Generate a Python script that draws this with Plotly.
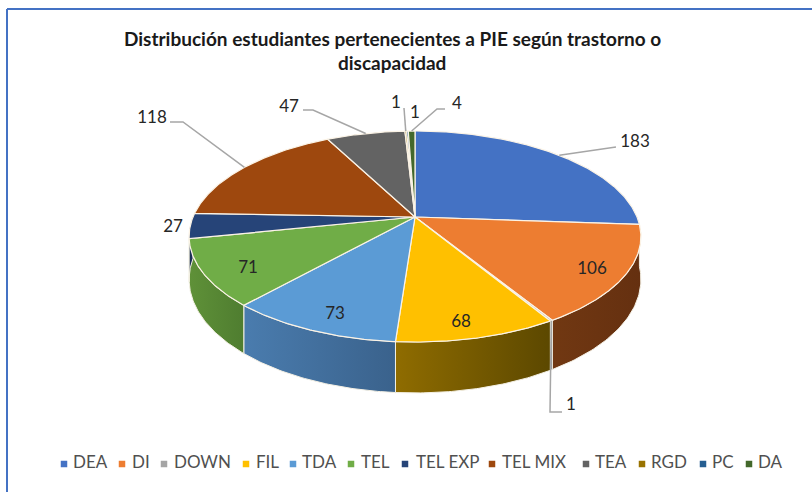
import numpy as np
import plotly.graph_objects as go

categories = ["DEA", "DI", "DOWN", "FIL", "TDA", "TEL", "TEL EXP", "TEL MIX", "TEA", "RGD", "PC", "DA"]
values = [183, 106, 1, 68, 73, 71, 27, 118, 47, 1, 1, 4]
top_colors = ["#4472c4", "#ed7d31", "#a5a5a5", "#ffc000", "#5b9bd5", "#70ad47",
              "#264478", "#9e480e", "#636363", "#997300", "#255e91", "#43682b"]
side_left = ["#2a4a85", "#713812", "#777777", "#8f6c00", "#4a7cae", "#5f9138",
             "#1b3057", "#6b300a", "#444444", "#6b5000", "#1a4268", "#2e481e"]
side_right = ["#2a4a85", "#653010", "#777777", "#5c4800", "#3a628c", "#4f7d30",
              "#1b3057", "#6b300a", "#444444", "#6b5000", "#1a4268", "#2e481e"]
title_lines = ["Distribución estudiantes pertenecientes a PIE según trastorno o", "discapacidad"]

# label placement (page pixels)
label_pos = {0: (635, 143), 1: (592, 270), 2: (571, 406), 3: (461, 323), 4: (335, 315), 5: (248, 269),
             6: (173, 228), 7: (152, 119), 8: (289, 108), 9: (396, 104), 10: (415, 114), 11: (457, 105)}
# elbow points of the leader lines
leaders = {0: [(610, 148), (616, 147)], 2: [(550, 412), (562, 412)], 7: [(183, 122), (170, 122)],
           8: [(313, 110), (303, 110)], 9: [(404, 108)], 11: [(437, 109), (445, 109)]}
legend_marker_x = [64, 122, 164, 246, 293, 351, 405, 492, 586, 642, 703, 749]
legend_text_x = [73, 132, 174, 256, 302, 361, 416, 502, 595, 651, 712, 758]
legend_y = 464

# perspective pie geometry
CX, CY, RX, RY, PERSP, DEPTH = 415, 217, 222, 101.9, 0.185, 41.5


def project(deg, r=1.0):
    a = np.radians(deg)
    u, v = r * np.sin(a), r * np.cos(a)
    w = 1 + PERSP * v
    return CX + RX * u / w, CY - RY * v / w, w


totals = np.cumsum([0] + values) / sum(values) * 360
fig = go.Figure()

# side walls
for i, name in enumerate(categories):
    a0, a1 = totals[i], totals[i + 1]
    lo, hi = max(a0, 90), min(a1, 270)
    if hi <= lo:
        continue
    arc = np.linspace(lo, hi, 60)
    x, y, w = project(arc)
    px = np.concatenate([x, x[::-1], x[:1]])
    py = np.concatenate([y, (y + DEPTH / w)[::-1], y[:1]])
    fig.add_trace(go.Scatter(
        x=px, y=py, mode="lines", fill="toself", showlegend=False, hoverinfo="skip",
        line=dict(color="#f4f0e4", width=1),
        fillgradient=dict(type="horizontal", colorscale=[[0, side_left[i]], [1, side_right[i]]]),
    ))

# top surface
for i, name in enumerate(categories):
    arc = np.linspace(totals[i], totals[i + 1], max(3, int(totals[i + 1] - totals[i]) * 2))
    x, y, _ = project(arc)
    fig.add_trace(go.Scatter(
        x=np.concatenate([[CX], x, [CX]]), y=np.concatenate([[CY], y, [CY]]),
        mode="lines", fill="toself", fillcolor=top_colors[i], name=name, showlegend=False,
        line=dict(color="#fbf3e6", width=1.2), hoverinfo="name",
    ))

# leader lines
for i, pts in leaders.items():
    mid = (totals[i] + totals[i + 1]) / 2
    x, y, _ = project(mid)
    xs = [float(x)] + [p[0] for p in pts]
    ys = [float(y)] + [p[1] for p in pts]
    fig.add_trace(go.Scatter(x=xs, y=ys, mode="lines", showlegend=False, hoverinfo="skip",
                             line=dict(color="#a6a6a6", width=1.5)))

# value labels
fig.add_trace(go.Scatter(
    x=[label_pos[i][0] for i in range(len(values))],
    y=[label_pos[i][1] for i in range(len(values))],
    text=[str(v) for v in values], mode="text", showlegend=False, hoverinfo="skip",
    textfont=dict(family="Lato", size=17, color="#262626"),
))

# legend
fig.add_trace(go.Scatter(
    x=legend_marker_x, y=[legend_y] * len(categories), mode="markers", showlegend=False, hoverinfo="skip",
    marker=dict(symbol="square", size=6.5, color=top_colors, line=dict(width=0)),
))
fig.add_trace(go.Scatter(
    x=legend_text_x, y=[legend_y] * len(categories), mode="text", text=categories,
    textposition="middle right", showlegend=False, hoverinfo="skip",
    textfont=dict(family="Lato", size=17, color="#505050"),
))

fig.update_layout(
    width=812, height=492, autosize=False, margin=dict(l=0, r=0, t=0, b=0),
    paper_bgcolor="white", plot_bgcolor="white",
    xaxis=dict(range=[0, 812], visible=False, fixedrange=True),
    yaxis=dict(range=[492, 0], visible=False, fixedrange=True),
    annotations=[
        dict(x=392, y=38, xref="x", yref="y", text=title_lines[0], showarrow=False,
             font=dict(family="Lato", size=19, color="#1a1a1a", weight="bold")),
        dict(x=392, y=62, xref="x", yref="y", text=title_lines[1], showarrow=False,
             font=dict(family="Lato", size=19, color="#1a1a1a", weight="bold")),
    ],
    shapes=[
        dict(type="line", x0=7, x1=812, y0=9, y1=9, xref="x", yref="y", line=dict(color="#4472c4", width=2)),
        dict(type="line", x0=7, x1=7, y0=9, y1=492, xref="x", yref="y", line=dict(color="#4472c4", width=2)),
    ],
)

fig.write_html("out.html", config={"displayModeBar": False},
               post_script="document.body.style.margin='0';")
